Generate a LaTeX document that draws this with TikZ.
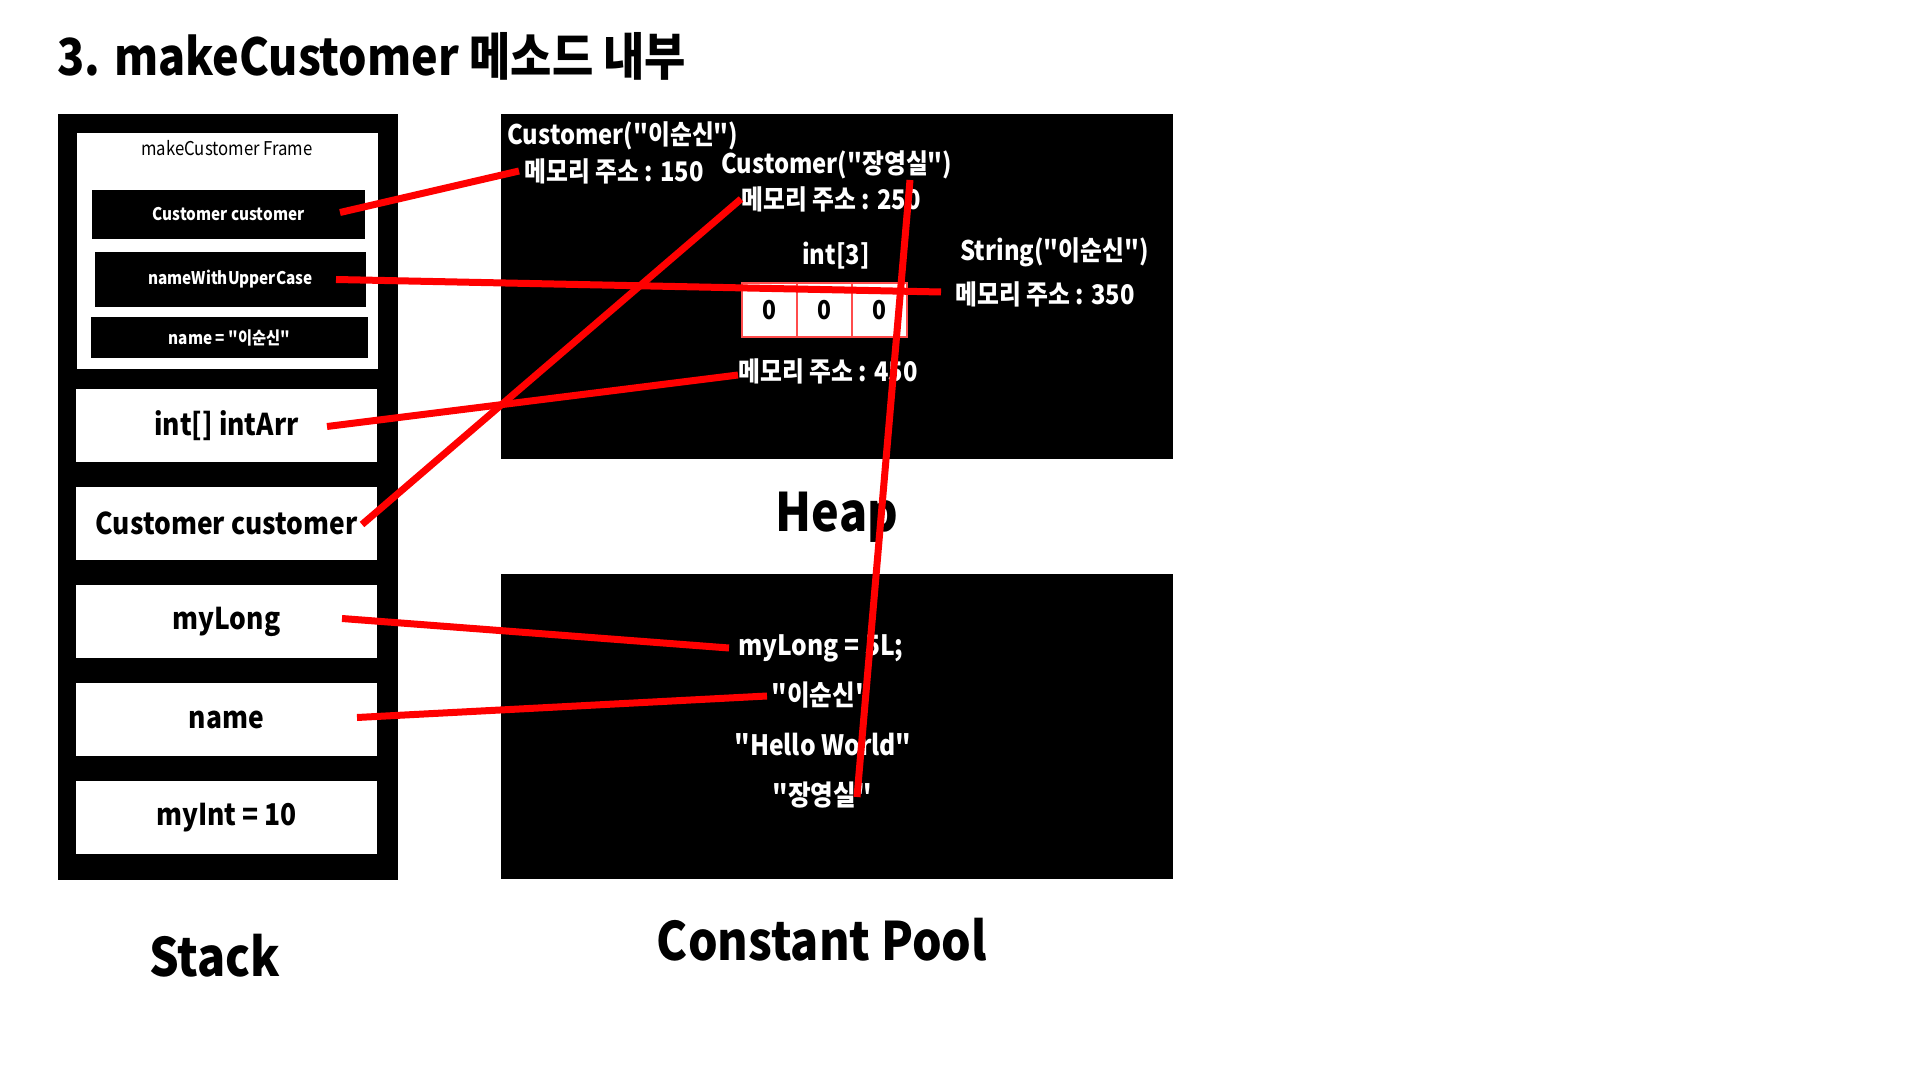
\documentclass[tikz,border=0pt]{standalone}
\usepackage{fontspec}
\setmainfont{Noto Sans CJK KR}[FakeStretch=0.88, Ligatures=TeXOff]
\usetikzlibrary{calc,positioning}

\begin{document}
\begin{tikzpicture}[
  x=0.5pt, y=-0.5pt,
  blk/.style={fill=black, inner sep=0pt, outer sep=0pt},
  slot/.style={fill=white, inner sep=0pt, outer sep=0pt, minimum width=150.5pt,
               minimum height=36.5pt, font=\bfseries\fontsize{15}{18}\selectfont},
  fslot/.style={fill=black, text=white, inner sep=0pt, outer sep=0pt,
                font=\bfseries\fontsize{8.7}{10}\selectfont},
  mem/.style={text=white, inner sep=0pt, anchor=west,
              font=\bfseries\fontsize{13.5}{16}\selectfont},
  pool/.style={text=white, inner sep=0pt, font=\bfseries\fontsize{14}{16}\selectfont},
  cell/.style={draw=red!70!white, line width=1pt, fill=white, minimum width=27.5pt,
               minimum height=27pt, inner sep=0pt, outer sep=0pt,
               font=\bfseries\fontsize{13}{15}\selectfont},
  big/.style={inner sep=0pt, font=\bfseries\fontsize{26.5}{30}\selectfont},
  ref/.style={red, line width=3.5pt}
]
  \useasboundingbox (0,0) rectangle (1920,1080);
  \fill[white] (0,0) rectangle (1920,1080);

  \node[inner sep=0pt, anchor=west, font=\bfseries\fontsize{25.5}{28}\selectfont]
    (title) at (57,56) {3. makeCustomer 메소드 내부};

  % stack
  \node[blk, minimum width=170pt, minimum height=383pt] (stack) at (228,497) {};
  \node[fill=white, inner sep=0pt, minimum width=150.5pt, minimum height=118pt] (frame) at (227.5,251) {};
  \node[inner sep=0pt, font=\fontsize{9.5}{11}\selectfont] (ftitle) at (227,148) {makeCustomer Frame};
  \node[fslot, minimum width=136.5pt, minimum height=24.5pt] (fcust) at (228.5,214.5) {Customer customer};
  \node[fslot, minimum width=135.5pt, minimum height=27.5pt] (fupper) at (230.5,279.5) {nameWithUpperCase};
  \node[fslot, minimum width=138.5pt, minimum height=20.5pt] (fname) at (229.5,337.5) {name = "이순신"};

  \node[slot] (sArr)  at (226.5,425.5) {int[] intArr};
  \node[slot] (sCust) at (226.5,523.5) {Customer customer};
  \node[slot] (sLong) at (226.5,621.5) {myLong};
  \node[slot] (sName) at (226.5,719.5) {name};
  \node[slot] (sInt)  at (226.5,817.5) {myInt = 10};

  % heap
  \node[blk, minimum width=336pt, minimum height=172.5pt] (heap) at (837,286.5) {};
  \node[mem] (cLee)  at (507,136) {Customer("이순신")};
  \node[mem] (m150)  at (524,171) {메모리 주소 : 150};
  \node[mem] (cJang) at (721,165) {Customer("장영실")};
  \node[mem] (m250)  at (741,199) {메모리 주소 : 250};
  \node[mem, anchor=center] (int3) at (836,256) {int[3]};
  \node[mem] (sLee)  at (960,252) {String("이순신")};
  \node[mem] (m350)  at (955,294) {메모리 주소 : 350};
  \node[cell] (c1) at (769.5,310) {0};
  \node[cell, right=0pt of c1] (c2) {0};
  \node[cell, right=0pt of c2] (c3) {0};
  \node[mem] (m450)  at (738,371) {메모리 주소 : 450};

  % constant pool
  \node[blk, minimum width=336pt, minimum height=152.5pt] (cpool) at (837,726.5) {};
  \node[pool, anchor=west] (pLong) at (738,648) {myLong = 5L;};
  \node[pool] (pLee)   at (821,695) {"이순신"};
  \node[pool] (pHello) at (823,745) {"Hello World"};
  \node[pool] (pJang)  at (822,795) {"장영실"};

  \node[big] (lHeap)  at (837,517) {Heap};
  \node[big] (lStack) at (215,956) {Stack};
  \node[big] (lPool)  at (822,940) {Constant Pool};

  \draw[ref] ($(fcust.east)+(-25,-2)$) -- ($(m150.west)+(-5,0)$);
  \draw[ref] ($(fupper.east)+(-30,0)$) -- ($(m350.west)+(-14,-2)$);
  \draw[ref] ($(sArr.east)+(-50,1)$) -- ($(m450.west)+(0,4)$);
  \draw[ref] ($(sCust.east)+(-15,1)$) -- (m250.west);
  \draw[ref] ($(sLong.east)+(-35,-3)$) -- ($(pLong.west)+(-9,0)$);
  \draw[ref] ($(sName.east)+(-20,-2)$) -- ($(pLee.center)+(-54,1)$);
  \draw[ref] ($(cJang.west)+(189,15)$) -- ($(pJang.center)+(35,2)$);
\end{tikzpicture}
\end{document}
